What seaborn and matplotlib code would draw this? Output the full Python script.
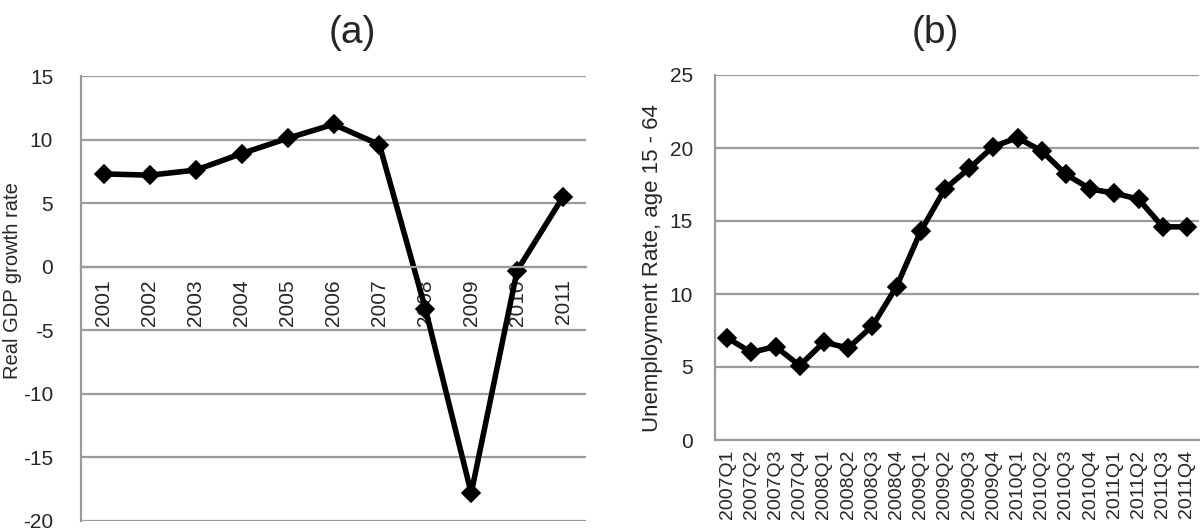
import numpy as np
import matplotlib
matplotlib.use("Agg")
import matplotlib.pyplot as plt
import seaborn as sns

# data
years = ['2001', '2002', '2003', '2004', '2005', '2006', '2007', '2008', '2009', '2010', '2011']
gdp_growth = [7.3, 7.2, 7.6, 8.9, 10.1, 11.2, 9.6, -3.3, -17.8, -0.3, 5.5]

quarters = ['2007Q1', '2007Q2', '2007Q3', '2007Q4', '2008Q1', '2008Q2', '2008Q3', '2008Q4',
            '2009Q1', '2009Q2', '2009Q3', '2009Q4', '2010Q1', '2010Q2', '2010Q3', '2010Q4',
            '2011Q1', '2011Q2', '2011Q3', '2011Q4']
unemployment = [7.0, 6.0, 6.4, 5.1, 6.7, 6.3, 7.8, 10.5, 14.3, 17.2, 18.6, 20.1,
                20.7, 19.8, 18.2, 17.2, 16.9, 16.5, 14.6, 14.6]

sns.set_style("white")
plt.rcParams['font.family'] = ['Liberation Sans', 'DejaVu Sans']
plt.rcParams['axes.unicode_minus'] = False

GRID = '#9a9a9a'

fig = plt.figure(figsize=(12, 5.32), dpi=100)
ax1 = fig.add_axes([81 / 1200, 11 / 532, 505 / 1200, 445 / 532])
ax2 = fig.add_axes([715 / 1200, 92 / 532, 484 / 1200, 365 / 532])


def style_axis(ax, n, ylim, step, xfont, ticklen, ypad):
    ax.set_xlim(-0.5, n - 0.5)
    ax.set_ylim(*ylim)
    ax.set_yticks(np.arange(ylim[0], ylim[1] + 0.1, step))
    ax.set_axisbelow(True)
    ax.yaxis.grid(True, color=GRID, lw=1.6)
    ax.xaxis.grid(False)
    for s in ['top', 'right']:
        ax.spines[s].set_visible(False)
    for s in ['left', 'bottom']:
        ax.spines[s].set_color(GRID)
        ax.spines[s].set_linewidth(1.6)
    # category boundaries carry the tick marks, labels sit on the centres
    ax.set_xticks(np.arange(-0.5, n, 1.0), minor=True)
    ax.tick_params(axis='x', which='major', length=0, labelsize=xfont, rotation=90, pad=9)
    ax.tick_params(axis='x', which='minor', length=ticklen, width=1.6, color=GRID, direction='out')
    ax.tick_params(axis='y', length=6, width=1.6, color=GRID, direction='out', labelsize=15, pad=ypad)
    for lab in ax.get_xticklabels():
        lab.set_verticalalignment('top')


# (a) real GDP growth
sns.lineplot(x=years, y=gdp_growth, ax=ax1, color='black', lw=4,
             marker='D', markersize=9.5, markeredgecolor='black', markeredgewidth=1.2, sort=False)
style_axis(ax1, len(years), (-20, 15), 5, 15, 7, 14)
ax1.spines['bottom'].set_position(('data', 0))
ax1.set_xlabel('')
ax1.set_ylabel('Real GDP growth rate', fontsize=14.5)
ax1.yaxis.set_label_coords(-0.117, 0.54)

# (b) unemployment rate
sns.lineplot(x=quarters, y=unemployment, ax=ax2, color='black', lw=4,
             marker='D', markersize=9.5, markeredgecolor='black', markeredgewidth=1.2, sort=False)
style_axis(ax2, len(quarters), (0, 25), 5, 14, 6, 10)
ax2.tick_params(axis='x', which='major', pad=7)
ax2.set_xlabel('')
ax2.set_ylabel('Unemployment Rate, age 15 - 64', fontsize=16)
ax2.yaxis.set_label_coords(-0.107, 0.47)

fig.text(352 / 1200, 1 - 33 / 532, '(a)', fontsize=28, ha='center', va='center')
fig.text(935 / 1200, 1 - 33 / 532, '(b)', fontsize=28, ha='center', va='center')

fig.savefig('out.png', dpi=100)
